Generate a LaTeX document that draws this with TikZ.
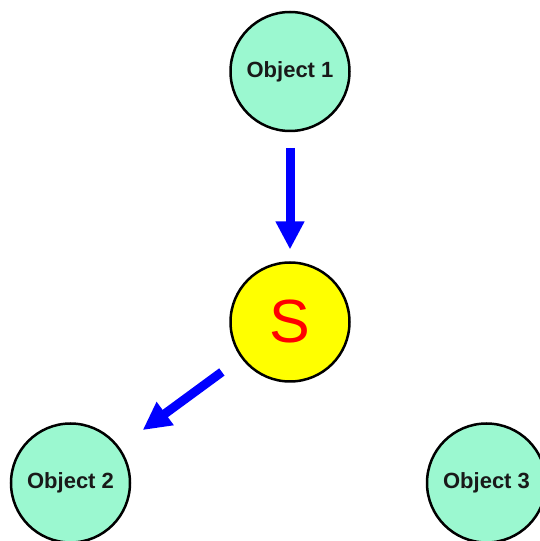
\documentclass[tikz,border=0pt]{standalone}
\usepackage{fontspec}
\setmainfont{Liberation Sans}
\usetikzlibrary{arrows.meta}
\definecolor{objfill}{RGB}{155,248,208}
\definecolor{sfill}{RGB}{255,255,0}
\definecolor{arrblue}{RGB}{0,0,255}
\definecolor{sred}{RGB}{255,0,0}
\begin{document}
\begin{tikzpicture}[x=1pt,y=1pt,
  objnode/.style={circle,draw=black,line width=2.5pt,fill=objfill,minimum size=119pt,inner sep=0pt,outer sep=0pt,
    font=\fontsize{22}{26}\selectfont\bfseries,text=black!90},
  snode/.style={circle,draw=black,line width=2.5pt,fill=sfill,minimum size=119pt,inner sep=0pt,outer sep=0pt,
    font=\fontsize{61}{70}\selectfont,text=sred},
  bigarrow/.style={draw=arrblue,line width=9pt,-{Triangle[width=27pt,length=28pt]},fill=arrblue}]
\useasboundingbox (0,0) rectangle (540,541);
\fill[white] (0,0) rectangle (540,541);
\node[objnode] (o1) at (290,469.5) {Object 1};
\node[snode] (s) at (290,219) {S};
\node[objnode] (o2) at (70.5,58) {Object 2};
\node[objnode] (o3) at (486.5,58) {Object 3};
\draw[bigarrow,shorten <=17pt,shorten >=13pt] (o1) -- (s);
\draw[bigarrow,shorten <=25pt,shorten >=30pt] (s) -- (o2);
\end{tikzpicture}
\end{document}
